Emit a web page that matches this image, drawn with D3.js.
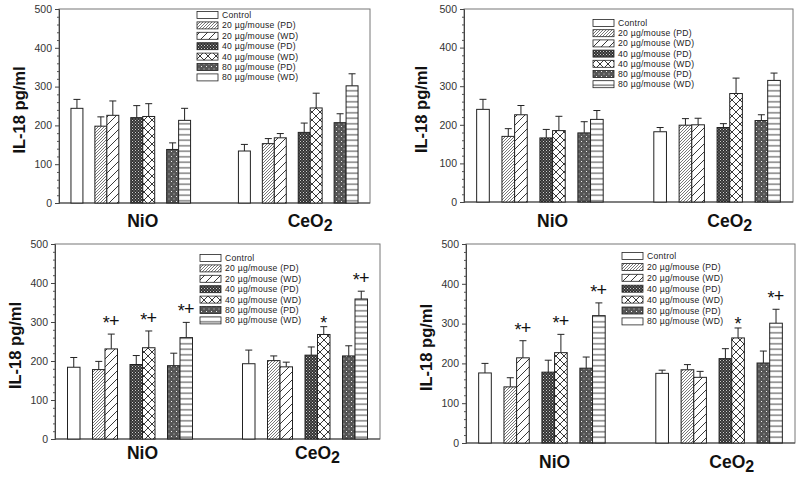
<!DOCTYPE html>
<html>
<head>
<meta charset="utf-8">
<script src="https://cdn.jsdelivr.net/npm/d3@7"></script>
<style>
  html, body { margin: 0; padding: 0; background: #fff; }
  svg { display: block; font-family: "Liberation Sans", Arial, sans-serif; }
</style>
</head>
<body>
<svg id="chart" width="800" height="477"></svg>
<script>
// ---------- data ----------
const categories = ["NiO", "CeO2"];
const series = [
  "Control",
  "20 µg/mouse (PD)",
  "20 µg/mouse (WD)",
  "40 µg/mouse (PD)",
  "40 µg/mouse (WD)",
  "80 µg/mouse (PD)",
  "80 µg/mouse (WD)"
];
const yTicks = [0, 100, 200, 300, 400, 500];
const yLabel = "IL-18 pg/ml";

// panel 1 (top-left)
const panel1Means = [[244, 198, 226, 220, 223, 138, 213], [134, 153, 168, 182, 245, 207, 302]];
const panel1Errs  = [[23, 24, 37, 31, 33, 17, 31], [17, 13, 11, 24, 38, 23, 31]];
// panel 2 (top-right)
const panel2Means = [[240, 170, 226, 166, 185, 179, 214], [182, 199, 200, 193, 281, 211, 315]];
const panel2Errs  = [[26, 20, 24, 22, 37, 29, 23], [11, 17, 17, 10, 40, 15, 19]];
// panel 3 (bottom-left)
const panel3Means = [[184, 178, 231, 191, 234, 188, 260], [193, 201, 185, 215, 268, 213, 359]];
const panel3Errs  = [[25, 21, 38, 23, 43, 32, 39], [35, 12, 12, 21, 20, 26, 20]];
// panel 4 (bottom-right)
const panel4Means = [[176, 141, 214, 178, 227, 188, 320], [175, 184, 165, 212, 264, 201, 301]];
const panel4Errs  = [[24, 23, 43, 30, 46, 28, 32], [8, 13, 15, 25, 25, 30, 35]];

// significance marks: [category index, series index, text]
const panel1Marks = [];
const panel2Marks = [];
const panel3Marks = [[0, 2, "*+"], [0, 4, "*+"], [0, 6, "*+"], [1, 4, "*"], [1, 6, "*+"]];
const panel4Marks = [[0, 2, "*+"], [0, 4, "*+"], [0, 6, "*+"], [1, 4, "*"], [1, 6, "*+"]];

// ---------- layout / style ----------
const panels = [
  { means: panel1Means, errs: panel1Errs, marks: panel1Marks,
    left: 59, right: 370, top: 9, bottom: 203, titleX: 19, labelY: 227,
    legendX: 197, legendY: 15, legendStep: 10.4, plainLast: true },
  { means: panel2Means, errs: panel2Errs, marks: panel2Marks,
    left: 464, right: 793, top: 9, bottom: 202, titleX: 421, labelY: 227,
    legendX: 593, legendY: 23, legendStep: 10.2, plainLast: false },
  { means: panel3Means, errs: panel3Errs, marks: panel3Marks,
    left: 55, right: 380, top: 244, bottom: 439, titleX: 15, labelY: 459,
    legendX: 200, legendY: 258, legendStep: 10.4, plainLast: false },
  { means: panel4Means, errs: panel4Errs, marks: panel4Marks,
    left: 466, right: 795, top: 244, bottom: 443, titleX: 426, labelY: 468,
    legendX: 622, legendY: 256, legendStep: 10.9, plainLast: true }
];

const slotOffsets = [0, 2, 3, 5, 6, 8, 9];   // bar slots within a group
const groupStart = [1, 15];                  // first slot of each group
const labelSlot = [7, 21];
const totalSlots = 26;
const fills = ["#fff", "url(#p20PD)", "url(#p20WD)", "url(#p40PD)", "url(#p40WD)", "url(#p80PD)", "url(#p80WD)"];

const svg = d3.select("#chart");
const defs = svg.append("defs");

function pat(id, w, h, bg) {
  const p = defs.append("pattern").attr("id", id).attr("patternUnits", "userSpaceOnUse")
    .attr("width", w).attr("height", h);
  p.append("rect").attr("width", w).attr("height", h).attr("fill", bg);
  return p;
}
// 20 PD: dense diagonal
pat("p20PD", 3, 3, "#fff").append("path")
  .attr("d", "M0,3 L3,0 M-1,1 L1,-1 M2,4 L4,2").attr("stroke", "#555").attr("stroke-width", 0.8);
// 20 WD: sparse diagonal
pat("p20WD", 8, 8, "#fff").append("path")
  .attr("d", "M0,8 L8,0 M-2,2 L2,-2 M6,10 L10,6").attr("stroke", "#222").attr("stroke-width", 0.9);
// 40 PD: dense dark checker
{
  const p = pat("p40PD", 3, 3, "#333");
  p.append("rect").attr("x", 0).attr("y", 0).attr("width", 1).attr("height", 1).attr("fill", "#ccc");
  p.append("rect").attr("x", 1.5).attr("y", 1.5).attr("width", 1).attr("height", 1).attr("fill", "#aaa");
}
// 40 WD: diamond lattice
pat("p40WD", 8, 8, "#fff").append("path")
  .attr("d", "M0,0 L8,8 M0,8 L8,0").attr("stroke", "#222").attr("stroke-width", 0.9);
// 80 PD: dark grey with white dots
{
  const p = pat("p80PD", 5, 5, "#555");
  p.append("rect").attr("x", 1).attr("y", 1).attr("width", 1).attr("height", 1).attr("fill", "#eee");
  p.append("rect").attr("x", 3.5).attr("y", 3.5).attr("width", 1).attr("height", 1).attr("fill", "#ccc");
}
// 80 WD: horizontal lines
pat("p80WD", 10, 5.5, "#fff").append("path")
  .attr("d", "M0,2.75 L10,2.75").attr("stroke", "#222").attr("stroke-width", 0.9);

panels.forEach(P => {
  const g = svg.append("g");
  const x = d3.scaleLinear().domain([0, totalSlots]).range([P.left, P.right]);
  const y = d3.scaleLinear().domain([0, 500]).range([P.bottom, P.top]);
  const bw = x(1) - x(0);

  // frame
  g.append("rect").attr("x", P.left).attr("y", P.top)
    .attr("width", P.right - P.left).attr("height", P.bottom - P.top)
    .attr("fill", "none").attr("stroke", "#777").attr("stroke-width", 1);

  // y axis
  const yAxis = d3.axisLeft(y).tickValues(yTicks).tickSize(4).tickPadding(3).tickFormat(d3.format("d"));
  const ya = g.append("g").attr("transform", `translate(${P.left},0)`).call(yAxis);
  ya.select(".domain").attr("stroke", "#444");
  ya.selectAll(".tick line").attr("stroke", "#444");
  ya.selectAll("text").attr("font-size", 10.5).attr("fill", "#333")
    .attr("font-family", "Liberation Sans, Arial, sans-serif");
  const minor = d3.range(0, 501, 20).filter(v => v % 100 !== 0);
  g.append("g").attr("transform", `translate(${P.left},0)`)
    .call(d3.axisLeft(y).tickValues(minor).tickSize(2).tickFormat(""))
    .call(s => { s.select(".domain").remove(); s.selectAll("line").attr("stroke", "#555"); });

  // bottom axis line
  g.append("line").attr("x1", P.left).attr("x2", P.right).attr("y1", y(0)).attr("y2", y(0))
    .attr("stroke", "#444").attr("stroke-width", 1.2);

  // y title
  g.append("text")
    .attr("transform", `translate(${P.titleX + 6},${(P.top + P.bottom) / 2 + 4}) rotate(-90)`)
    .attr("text-anchor", "middle").attr("font-weight", "bold").attr("font-size", 16.5)
    .attr("fill", "#111").text(yLabel);

  // bars
  categories.forEach((cat, ci) => {
    series.forEach((s, si) => {
      const x0 = x(groupStart[ci] + slotOffsets[si]);
      const m = P.means[ci][si];
      const e = P.errs[ci][si];
      const cx = x0 + bw / 2;
      g.append("line").attr("x1", cx).attr("x2", cx).attr("y1", y(m)).attr("y2", y(m + e))
        .attr("stroke", "#222").attr("stroke-width", 1);
      g.append("line").attr("x1", cx - 3.5).attr("x2", cx + 3.5).attr("y1", y(m + e)).attr("y2", y(m + e))
        .attr("stroke", "#222").attr("stroke-width", 1);
      g.append("rect").attr("x", x0).attr("y", y(m)).attr("width", bw).attr("height", y(0) - y(m))
        .attr("fill", fills[si]).attr("stroke", "#222").attr("stroke-width", 1);
    });
    // category label
    const t = g.append("text").attr("x", x(labelSlot[ci])).attr("y", P.labelY)
      .attr("text-anchor", "middle").attr("font-weight", "bold").attr("font-size", 17.5).attr("fill", "#111");
    if (cat === "CeO2") {
      t.append("tspan").text("CeO");
      t.append("tspan").attr("dy", 4).attr("font-size", 16).text("2");
    } else {
      t.text(cat);
    }
  });

  // significance marks
  P.marks.forEach(([ci, si, txt]) => {
    const cx = x(groupStart[ci] + slotOffsets[si]) + bw / 2;
    const top = y(P.means[ci][si] + P.errs[ci][si]);
    if (txt === "*+") {
      g.append("text").attr("x", cx - 5).attr("y", top - 5).attr("text-anchor", "middle")
        .attr("font-size", 18).attr("fill", "#111").text("*");
      g.append("text").attr("x", cx + 3).attr("y", top - 7).attr("text-anchor", "middle")
        .attr("font-size", 18).attr("fill", "#111").text("+");
    } else {
      g.append("text").attr("x", cx).attr("y", top + 2).attr("text-anchor", "middle")
        .attr("font-size", 18).attr("fill", "#111").text(txt);
    }
  });

  // legend
  series.forEach((s, si) => {
    const ly = P.legendY + si * P.legendStep;
    const f = (si === series.length - 1 && P.plainLast) ? "#fff" : fills[si];
    g.append("rect").attr("x", P.legendX).attr("y", ly - 3.5).attr("width", 21).attr("height", 7)
      .attr("fill", f).attr("stroke", "#222").attr("stroke-width", 0.8);
    g.append("text").attr("x", P.legendX + 25).attr("y", ly + 3)
      .attr("font-size", 8.6).attr("letter-spacing", 0.25).attr("fill", "#222").text(s);
  });
});
</script>
</body>
</html>
